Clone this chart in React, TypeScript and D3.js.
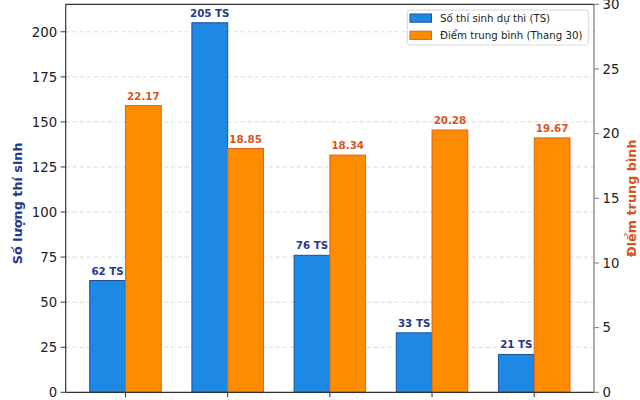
import * as d3 from "d3";

// values (x-axis labels are cut off in the reference)
const groups = ["1", "2", "3", "4", "5"];
const candidates = [62, 205, 76, 33, 21];
const avgScores = [22.17, 18.85, 18.34, 20.28, 19.67];
const leftTicks = [0, 25, 50, 75, 100, 125, 150, 175, 200];
const rightTicks = [0, 5, 10, 15, 20, 25, 30];
const legendLabels = ["Số thí sinh dự thi (TS)", "Điểm trung bình (Thang 30)"];

const W = 640;
const H = 400;
const plot = { left: 65.7, right: 594, top: 4.3, bottom: 392.3 };
const barW = 0.35;
const font = "'DejaVu Sans', Verdana, sans-serif";

const BLUE = "#1e88e5";
const BLUE_EDGE = "#1c4f9e";
const ORANGE = "#ff8c00";
const ORANGE_EDGE = "#e0601a";
const BLUE_TEXT = "#1f3a8a";
const ORANGE_TEXT = "#d9531e";

export default function App() {
  // bars span [-0.35, n-1+0.35], plus 5% margins like matplotlib
  const x = d3
    .scaleLinear()
    .domain([-barW - 0.235, groups.length - 1 + barW + 0.235])
    .range([plot.left, plot.right]);

  const yL = d3.scaleLinear().domain([0, 205 * 1.05]).range([plot.bottom, plot.top]);
  const yR = d3.scaleLinear().domain([0, 30]).range([plot.bottom, plot.top]);
  const bw = x(barW) - x(0);

  return (
    <svg
      width={W}
      height={H}
      style={{ position: "absolute", left: 0, top: 0, background: "#fff" }}
      fontFamily={font}
    >
      {/* grid */}
      {leftTicks.map((t) => (
        <line
          key={"g" + t}
          x1={plot.left}
          x2={plot.right}
          y1={yL(t)}
          y2={yL(t)}
          stroke="#cfcfcf"
          strokeWidth={0.8}
          strokeDasharray="4,3"
        />
      ))}

      {/* bars */}
      {groups.map((g, i) => (
        <g key={g}>
          <rect
            x={x(i) - bw}
            y={yL(candidates[i])}
            width={bw}
            height={yL(0) - yL(candidates[i])}
            fill={BLUE}
            stroke={BLUE_EDGE}
            strokeWidth={1}
          />
          <rect
            x={x(i)}
            y={yR(avgScores[i])}
            width={bw}
            height={yR(0) - yR(avgScores[i])}
            fill={ORANGE}
            stroke={ORANGE_EDGE}
            strokeWidth={1}
          />
          <text
            x={x(i) - bw / 2}
            y={yL(candidates[i]) - 6}
            textAnchor="middle"
            fontSize={10.3}
            fontWeight="bold"
            fill={BLUE_TEXT}
          >
            {candidates[i]} TS
          </text>
          <text
            x={x(i) + bw / 2}
            y={yR(avgScores[i]) - 6}
            textAnchor="middle"
            fontSize={10.3}
            fontWeight="bold"
            fill={ORANGE_TEXT}
          >
            {avgScores[i].toFixed(2)}
          </text>
        </g>
      ))}

      {/* spines */}
      <line x1={plot.left} x2={plot.right} y1={plot.top} y2={plot.top} stroke="#333" strokeWidth={1.2} />
      <line x1={plot.left} x2={plot.right} y1={plot.bottom} y2={plot.bottom} stroke="#333" strokeWidth={1.2} />
      <line x1={plot.left} x2={plot.left} y1={plot.top} y2={plot.bottom} stroke="#333" strokeWidth={1.2} />
      <line x1={plot.right} x2={plot.right} y1={plot.top} y2={plot.bottom} stroke="#777" strokeWidth={1.2} />

      {/* x ticks (labels fall outside the frame) */}
      {groups.map((g, i) => (
        <line key={"xt" + g} x1={x(i)} x2={x(i)} y1={plot.bottom} y2={plot.bottom + 5} stroke="#333" />
      ))}

      {/* left axis */}
      {leftTicks.map((t) => (
        <g key={"l" + t}>
          <line x1={plot.left - 5} x2={plot.left} y1={yL(t)} y2={yL(t)} stroke="#333" />
          <text x={plot.left - 8.5} y={yL(t)} dy="0.36em" textAnchor="end" fontSize={13.3} fill="#222">
            {t}
          </text>
        </g>
      ))}

      {/* right axis */}
      {rightTicks.map((t) => (
        <g key={"r" + t}>
          <line x1={plot.right} x2={plot.right + 5} y1={yR(t)} y2={yR(t)} stroke="#777" />
          <text x={plot.right + 8.5} y={yR(t)} dy="0.36em" textAnchor="start" fontSize={13.3} fill="#222">
            {t}
          </text>
        </g>
      ))}

      {/* axis titles */}
      <text
        transform={`translate(22,${(plot.top + plot.bottom) / 2 + 5}) rotate(-90)`}
        textAnchor="middle"
        fontSize={12.8}
        fontWeight="bold"
        fill={BLUE_TEXT}
      >
        Số lượng thí sinh
      </text>
      <text
        transform={`translate(635.5,${(plot.top + plot.bottom) / 2}) rotate(-90)`}
        textAnchor="middle"
        fontSize={12.8}
        fontWeight="bold"
        fill={ORANGE_TEXT}
      >
        Điểm trung bình
      </text>

      {/* legend */}
      <rect x={407.3} y={10} width={181} height={35} rx={2.5} fill="#fff" fillOpacity={0.85} stroke="#d6d6d6" />
      {legendLabels.map((l, i) => (
        <g key={l} transform={`translate(410,${14 + i * 17.2})`}>
          <rect
            width={21.5}
            height={8.2}
            fill={i === 0 ? BLUE : ORANGE}
            stroke={i === 0 ? BLUE_EDGE : ORANGE_EDGE}
          />
          <text x={30} y={4.1} dy="0.36em" fontSize={10.2} fill="#222">
            {l}
          </text>
        </g>
      ))}
    </svg>
  );
}
